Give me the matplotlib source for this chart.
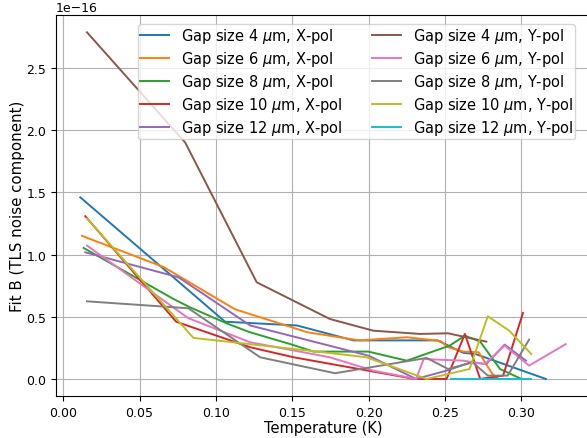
import matplotlib.pyplot as plt

# temperature (K) and fit B values (units of 1e-16)
t_4x = [0.0112, 0.106, 0.153, 0.190, 0.245, 0.262, 0.270, 0.316]
b_4x = [1.46, 0.46, 0.43, 0.31, 0.31, 0.21, 0.20, 0.0]

t_6x = [0.0123, 0.0657, 0.1125, 0.160, 0.194, 0.225, 0.247, 0.252, 0.262, 0.272, 0.281, 0.285]
b_6x = [1.15, 0.90, 0.56, 0.375, 0.31, 0.335, 0.305, 0.255, 0.22, 0.215, 0.04, 0.0]

t_8x = [0.0134, 0.0722, 0.083, 0.108, 0.1224, 0.1485, 0.164, 0.1997, 0.225, 0.253, 0.263, 0.273, 0.286, 0.300]
b_8x = [1.053, 0.643, 0.576, 0.442, 0.375, 0.281, 0.22, 0.22, 0.147, 0.268, 0.348, 0.30, 0.08, 0.0]

t_10x = [0.0145, 0.074, 0.1224, 0.151, 0.230, 0.251, 0.263, 0.273, 0.288, 0.301]
b_10x = [1.308, 0.46, 0.255, 0.174, 0.0, 0.0, 0.362, 0.0, 0.027, 0.53]

t_12x = [0.0145, 0.0755, 0.1224, 0.200, 0.231, 0.251, 0.267, 0.277, 0.289, 0.303]
b_12x = [1.018, 0.817, 0.43, 0.187, 0.0, 0.067, 0.134, 0.12, 0.276, 0.147]

t_4y = [0.0156, 0.0799, 0.1267, 0.1746, 0.203, 0.2335, 0.252, 0.277]
b_4y = [2.786, 1.90, 0.777, 0.482, 0.388, 0.362, 0.367, 0.30]

t_6y = [0.0156, 0.082, 0.1224, 0.1746, 0.203, 0.231, 0.236, 0.262, 0.276, 0.289, 0.305, 0.329]
b_6y = [1.072, 0.488, 0.295, 0.174, 0.067, 0.0, 0.16, 0.147, 0.12, 0.268, 0.107, 0.28]

t_8y = [0.0156, 0.082, 0.129, 0.178, 0.238, 0.252, 0.268, 0.278, 0.291, 0.305]
b_8y = [0.624, 0.568, 0.174, 0.046, 0.169, 0.08, 0.134, 0.027, 0.027, 0.316]

t_10y = [0.0156, 0.0853, 0.1746, 0.1986, 0.238, 0.266, 0.278, 0.292, 0.3065]
b_10y = [1.29, 0.33, 0.209, 0.174, 0.0, 0.08, 0.504, 0.388, 0.20]

t_12y = [0.254, 0.270, 0.285, 0.3065]
b_12y = [0.0, 0.0, 0.0, 0.0]

series = [
    (t_4x, b_4x, r'Gap size 4 $\mu$m, X-pol'),
    (t_6x, b_6x, r'Gap size 6 $\mu$m, X-pol'),
    (t_8x, b_8x, r'Gap size 8 $\mu$m, X-pol'),
    (t_10x, b_10x, r'Gap size 10 $\mu$m, X-pol'),
    (t_12x, b_12x, r'Gap size 12 $\mu$m, X-pol'),
    (t_4y, b_4y, r'Gap size 4 $\mu$m, Y-pol'),
    (t_6y, b_6y, r'Gap size 6 $\mu$m, Y-pol'),
    (t_8y, b_8y, r'Gap size 8 $\mu$m, Y-pol'),
    (t_10y, b_10y, r'Gap size 10 $\mu$m, Y-pol'),
    (t_12y, b_12y, r'Gap size 12 $\mu$m, Y-pol'),
]

fig = plt.figure(figsize=(5.87, 4.39), dpi=100)
ax = fig.add_axes([0.0954, 0.095, 0.9097, 0.8686])

for t, b, label in series:
    ax.plot(t, [v * 1e-16 for v in b], label=label, lw=1.4)

ax.set_xlabel('Temperature (K)', fontsize=10.5, labelpad=0.5)
ax.set_ylabel('Fit B (TLS noise component)', fontsize=10.8, labelpad=1)
ax.tick_params(labelsize=9)
ax.yaxis.get_offset_text().set_fontsize(9)
ax.grid(True)
ax.legend(ncol=2, loc='upper right', bbox_to_anchor=(0.989, 1.0),
          fontsize=10.5, labelspacing=0.28, borderpad=0.15, borderaxespad=0.6)

fig.savefig('out.png', dpi=100)
